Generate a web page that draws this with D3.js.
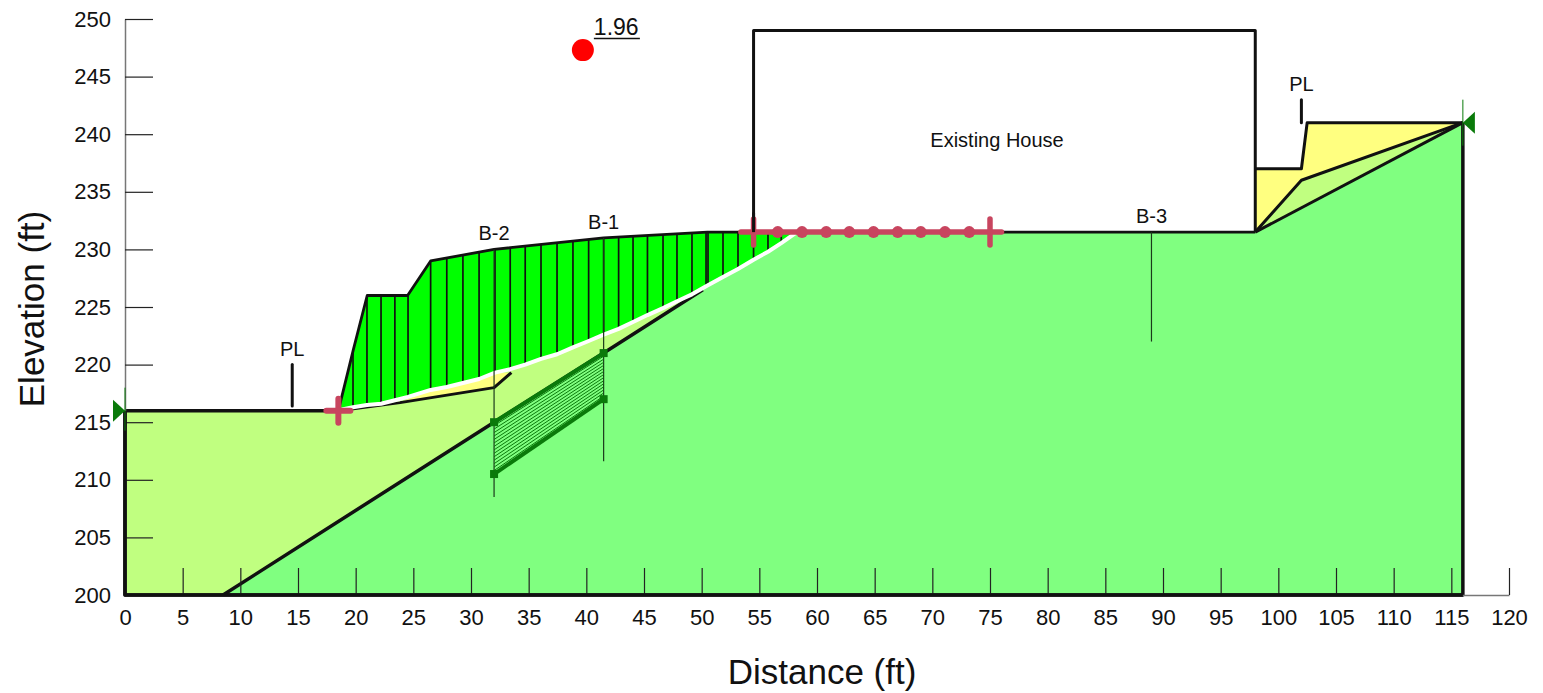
<!DOCTYPE html>
<html>
<head>
<meta charset="utf-8">
<script src="https://cdn.jsdelivr.net/npm/d3@7"></script>
<style>
    body { margin: 0; background: #fff; }
    text { font-family: "Liberation Sans", Arial, sans-serif; fill: #111; }
</style>
</head>
<body>
<svg id="chart" width="1543" height="693"></svg>
<script>
'use strict';

// values, all in ft
const xTicks = d3.range(0, 121, 5);
const yTicks = d3.range(200, 251, 5);

const groundX = [0, 18.5, 19.8, 21, 24.5, 26.5, 32, 41.5, 50.5, 54.5, 98];
const groundY = [216, 216, 221.3, 226, 226, 229, 230, 231, 231.5, 231.5, 231.5];

const slipX = [18.5, 19.77, 20.98, 22.2, 23.4, 24.54, 26.5, 27.9, 29.3, 30.7, 32.08, 33.4, 34.7, 36.07, 37.46, 38.84, 40.2, 41.5, 42.8, 44.05, 45.3, 46.65, 47.86, 49.16, 50.38, 51.85, 53.15, 54.5, 55.75, 56.9, 58.1];
const slipY = [216.05, 216.3, 216.5, 216.6, 216.9, 217.2, 217.8, 218.05, 218.4, 218.75, 219.3, 219.6, 220, 220.5, 220.9, 221.5, 222.05, 222.6, 223.1, 223.7, 224.3, 224.9, 225.5, 226.1, 226.8, 227.6, 228.3, 229.1, 229.8, 230.55, 231.4];
const sliceX = slipX.slice(1, -1).concat([50.55]);

const bedrockX = [8.5, 32, 41.5, 50.1, 58.1, 98, 116, 116];
const bedrockY = [200, 215, 221, 226.5, 231.4, 231.5, 241, 200];
const upperLineX = [18.5, 23.85, 32, 33.5];
const upperLineY = [216, 216.7, 218, 219.3];
const fillSliverX = [23.85, 32, 33.5, 32.08, 26.5];
const fillSliverY = [216.7, 218, 219.3, 219.3, 217.8];

const fillTopX = [98, 102, 102.5, 116, 102, 98];
const fillTopY = [237, 237, 241, 241, 236, 231.5];
const wedgeX = [98, 102, 116];
const wedgeY = [231.5, 236, 241];

const houseX = [54.5, 54.5, 98, 98];
const houseY = [231.5, 249, 249, 231.5];

const anchorX = [32, 41.5];
const anchorTop = [215, 221];
const anchorBottom = [210.5, 217];
const hatchSteps = d3.range(1, 15);

const entryRange = [53.4, 76];
const entryCrossX = [54.5, 75];
const entryDotX = [56.6, 58.7, 60.8, 62.8, 64.9, 67, 69, 71.1, 73.2];
const exitCross = [18.5, 216];

const boreholes = [
    { name: 'B-2', x: 32, top: 230, bottom: 208.5 },
    { name: 'B-1', x: 41.5, top: 231, bottom: 211.6 },
    { name: 'B-3', x: 89, top: 231.5, bottom: 222 }
];
const propertyLines = [
    { x: 14.5, y1: 216.4, y2: 220 },
    { x: 102, y1: 241, y2: 243 }
];
const center = { x: 39.7, y: 247.3, fos: '1.96' };

const dark = '#111';
const pink = '#c8455f';
const anchorGreen = '#0a7a0a';

const svg = d3.select('#chart');
const x = d3.scaleLinear().domain([0, 120]).range([125, 1509]);
const y = d3.scaleLinear().domain([200, 250]).range([595, 19]);

const groundAt = d3.scaleLinear().domain(groundX).range(groundY);
const slipAt = d3.scaleLinear().domain(slipX).range(slipY);

const pathOf = d3.line().x(d => x(d[0])).y(d => y(d[1]));
let pts = (xs, ys) => xs.map((v, i) => [v, ys[i]]);

let addArea = (points, color) => {
    svg.append('path').attr('d', pathOf(points) + 'Z').attr('fill', color).attr('stroke', 'none');
};
let addLine = (points, color, width, cap) => {
    svg.append('path').attr('d', pathOf(points))
        .attr('fill', 'none')
        .attr('stroke', color)
        .attr('stroke-width', width)
        .attr('stroke-linecap', cap || 'butt')
        .attr('stroke-linejoin', 'round');
};

const ground = pts(groundX, groundY);
const slip = pts(slipX, slipY);

// Material fills
let slipToBedrock = slip.filter(p => p[0] <= 50.38);
addArea([[0, 216]].concat(slipToBedrock, [[41.5, 221], [32, 215], [8.5, 200], [0, 200]]), '#c0ff80');
addArea(pts(bedrockX, bedrockY), '#80ff80');
addArea(pts(fillSliverX, fillSliverY), '#ffff80');
addArea(pts(fillTopX, fillTopY), '#ffff80');
addArea(pts(wedgeX, wedgeY), '#c0ff80');

// Sliding mass and slices
let massTop = ground.filter(p => p[0] >= 18.5 && p[0] <= 54.5).concat([[54.5, 231.5], [58.1, 231.4]]);
addArea(massTop.concat(slip.slice().reverse()), '#00ff00');
sliceX.forEach(v => {
    addLine([[v, groundAt(v)], [v, slipAt(v) + 0.15]], dark, 1.7);
});

// Boundary lines
addLine(pts(upperLineX, upperLineY), dark, 3);
addLine(pts(bedrockX.slice(0, 4), bedrockY.slice(0, 4)), dark, 3.5);
addLine(slip, '#fff', 4);
addLine(ground.filter(p => p[0] >= 18.5), dark, 2.8);
addLine([[0, 216], [18.5, 216]], dark, 3.5);
addLine([[0, 216], [0, 200], [116, 200], [116, 241]], dark, 3.5);
addLine(pts(fillTopX.slice(0, 4), fillTopY.slice(0, 4)), dark, 3);
addLine(pts(wedgeX, wedgeY), dark, 3);
addLine([[98, 231.5], [116, 241]], dark, 3);
addLine(pts(houseX, houseY), dark, 3);

// Axes sit over the fills
const xAxis = d3.axisBottom(x).tickValues(xTicks).tickSizeInner(-27).tickSizeOuter(0).tickPadding(14);
const yAxis = d3.axisLeft(y).tickValues(yTicks).tickSizeInner(-28).tickSizeOuter(0).tickPadding(14);
[svg.append('g').attr('transform', `translate(0,${y(200)})`).call(xAxis),
 svg.append('g').attr('transform', `translate(${x(0)},0)`).call(yAxis)].forEach(g => {
    g.selectAll('text').attr('font-size', 22).attr('font-family', '"Liberation Sans", Arial, sans-serif').attr('fill', '#111');
    g.selectAll('line').attr('stroke', '#222').attr('stroke-width', 1.2);
    g.select('.domain').attr('stroke', '#777').attr('stroke-width', 1.5);
});

// Redraw the thick frame so the grey axis line does not cover it
addLine([[0, 216], [0, 200], [116, 200]], dark, 3.5);

// Boreholes
boreholes.forEach(b => {
    addLine([[b.x, b.top], [b.x, b.bottom]], '#1b3a1b', 1.2);
    svg.append('text').attr('x', x(b.x)).attr('y', y(b.top) - 9)
        .attr('text-anchor', 'middle').attr('font-size', 20).text(b.name);
});

// Anchors with hatching
hatchSteps.forEach(k => {
    let t = k / (hatchSteps.length + 1);
    addLine(anchorX.map((v, i) => [v, anchorTop[i] + (anchorBottom[i] - anchorTop[i]) * t]), anchorGreen, 1);
});
addLine(pts(anchorX, anchorTop), anchorGreen, 4);
addLine(pts(anchorX, anchorBottom), anchorGreen, 4);
anchorX.forEach((v, i) => {
    [anchorTop[i], anchorBottom[i]].forEach(e => {
        svg.append('rect').attr('x', x(v) - 4).attr('y', y(e) - 4).attr('width', 8).attr('height', 8).attr('fill', anchorGreen);
    });
});

// Slip surface entry and exit
addLine([[entryRange[0], 231.5], [entryRange[1], 231.5]], pink, 5.5, 'round');
svg.selectAll('.entryDot').data(entryDotX).enter().append('circle')
    .attr('class', 'entryDot')
    .attr('cx', d => x(d)).attr('cy', y(231.5)).attr('r', 6).attr('fill', pink);
entryCrossX.forEach(v => {
    svg.append('line').attr('x1', x(v)).attr('x2', x(v)).attr('y1', y(231.5) - 13).attr('y2', y(231.5) + 13)
        .attr('stroke', pink).attr('stroke-width', 5.5).attr('stroke-linecap', 'round');
});
addLine([[54.5, 231.5], [54.5, 233.2]], dark, 3);
svg.append('line').attr('x1', x(exitCross[0]) - 12).attr('x2', x(exitCross[0]) + 12)
    .attr('y1', y(exitCross[1])).attr('y2', y(exitCross[1]))
    .attr('stroke', pink).attr('stroke-width', 6).attr('stroke-linecap', 'round');
svg.append('line').attr('x1', x(exitCross[0])).attr('x2', x(exitCross[0]))
    .attr('y1', y(exitCross[1]) - 12).attr('y2', y(exitCross[1]) + 12)
    .attr('stroke', pink).attr('stroke-width', 6).attr('stroke-linecap', 'round');

// Property lines
propertyLines.forEach(p => {
    addLine([[p.x, p.y1], [p.x, p.y2]], dark, 3, 'round');
    svg.append('text').attr('x', x(p.x)).attr('y', y(p.y2) - 9)
        .attr('text-anchor', 'middle').attr('font-size', 20).text('PL');
});

// Piezo end markers
svg.append('path').attr('d', `M${x(0)},${y(216)}l-12,-11v22Z`).attr('fill', anchorGreen);
svg.append('line').attr('x1', x(0)).attr('x2', x(0)).attr('y1', y(216) - 23).attr('y2', y(216) + 20)
    .attr('stroke', anchorGreen).attr('stroke-width', 1);
svg.append('path').attr('d', `M${x(116)},${y(241)}l12,-11v22Z`).attr('fill', anchorGreen);
svg.append('line').attr('x1', x(116)).attr('x2', x(116)).attr('y1', y(241) - 23).attr('y2', y(241) + 23)
    .attr('stroke', anchorGreen).attr('stroke-width', 1);

// Critical slip centre and factor of safety
svg.append('circle').attr('cx', x(center.x)).attr('cy', y(center.y)).attr('r', 11).attr('fill', '#ff0000');
svg.append('text').attr('x', x(center.x) + 11).attr('y', 35)
    .attr('font-size', 23).text(center.fos);
svg.append('line').attr('x1', x(center.x) + 11).attr('x2', x(center.x) + 57)
    .attr('y1', 38.5).attr('y2', 38.5).attr('stroke', dark).attr('stroke-width', 1.6);

svg.append('text').attr('x', 997).attr('y', 147).attr('text-anchor', 'middle')
    .attr('font-size', 20).text('Existing House');

// Axis titles
svg.append('text').attr('x', 822).attr('y', 684).attr('text-anchor', 'middle')
    .attr('font-size', 35).text('Distance (ft)');
svg.append('text').attr('transform', 'translate(44,309) rotate(-90)').attr('text-anchor', 'middle')
    .attr('font-size', 35).text('Elevation (ft)');
</script>
</body>
</html>
